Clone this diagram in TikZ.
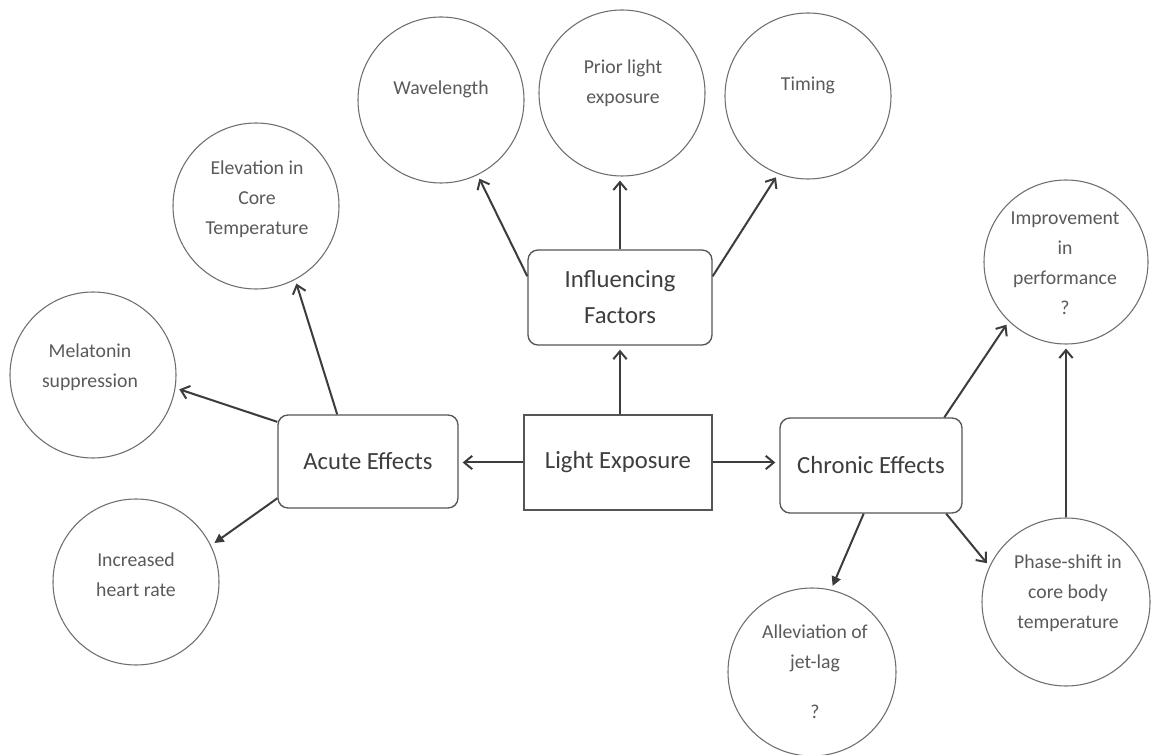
\documentclass[tikz,border=0pt]{standalone}
\usepackage{fontspec}
\setmainfont{Carlito}
\usetikzlibrary{arrows.meta,calc}
\definecolor{linec}{HTML}{3C3C3C}
\definecolor{circc}{HTML}{6E6E6E}
\definecolor{boxc}{HTML}{555555}
\definecolor{txtc}{HTML}{5A5A5A}
\definecolor{btxtc}{HTML}{3E3E3E}
\begin{document}
\begin{tikzpicture}[x=0.75pt,y=-0.75pt,
  bub/.style={circle,draw=circc,line width=0.8pt,inner sep=0pt},
  bubtxt/.style={align=center,text=txtc,inner sep=0pt,font=\fontsize{14.8}{22.5}\selectfont},
  stepbox/.style={draw=boxc,line width=1pt,inner sep=0pt,text=btxtc,align=center,font=\fontsize{18.5}{27}\selectfont},
  rbox/.style={stepbox,rounded corners=7.5pt},
  arr/.style={draw=linec,line width=1.5pt,-{Straight Barb[length=6pt,width=10pt]},shorten >=3pt},
  arrf/.style={draw=linec,line width=1.5pt,-{Triangle[length=7pt,width=7pt]},shorten >=3pt}]
\fill[white] (0,0) rectangle (1157,755);
\useasboundingbox (0,0) rectangle (1157,755);

% circles
\node[bub,minimum size=124.5pt] (wl) at (441,100) {};
\node[bubtxt] (wlt) at (441,89) {Wavelength};
\node[bub,minimum size=124.5pt] (prior) at (622,93) {};
\node[bubtxt] (prt) at (623,83) {Prior light\\exposure};
\node[bub,minimum size=124.5pt] (timing) at (808,96) {};
\node[bubtxt] (tmt) at (808,85) {Timing};
\node[bub,minimum size=124.5pt] (elev) at (256,206) {};
\node[bubtxt] (elt) at (257,199) {Elevation in\\Core\\Temperature};
\node[bub,minimum size=124.5pt] (mel) at (93,375) {};
\node[bubtxt] (mlt) at (90,367) {Melatonin\\suppression};
\node[bub,minimum size=124.5pt] (inc) at (136,582) {};
\node[bubtxt] (ict) at (136,575) {Increased\\heart rate};
\node[bub,minimum size=123pt] (impr) at (1066,262) {};
\node[bubtxt] (imt) at (1065,263) {Improvement\\in\\performance\\?};
\node[bub,minimum size=126pt] (phase) at (1066,602) {};
\node[bubtxt] (pht) at (1068,593) {Phase-shift in\\core body\\temperature};
\node[bub,minimum size=126pt] (allev) at (812,672) {};
\node[bubtxt] (avt) at (815,672) {Alleviation of\\jet-lag\\[15pt]?};

% boxes
\node[stepbox,minimum width=141pt,minimum height=71.25pt] (light) at (618,462.5) {Light Exposure};
\node[rbox,minimum width=135pt,minimum height=69.75pt] (acute) at (368,461.5) {Acute Effects};
\node[rbox,minimum width=136.5pt,minimum height=71.25pt] (chronic) at (871,465.5) {Chronic Effects};
\node[rbox,minimum width=138pt,minimum height=71.25pt] (infl) at (620,297.5) {Influencing\\Factors};

% connectors
\draw[arr] (infl.south |- light.north) -- (infl.south);
\draw[arr] ($(infl.north west)!0.28!(infl.south west)$) -- (wl.-64);
\draw[arr] (infl.north) -- (infl.north |- prior.south);
\draw[arr] ($(infl.north east)!0.28!(infl.south east)$) -- (timing.-111);
\draw[arr] (light.west) -- (light.west -| acute.east);
\draw[arr] (light.east) -- (light.east -| chronic.west);
\draw[arr] ($(acute.north west)!0.33!(acute.north east)$) -- (elev.-62);
\draw[arr] ($(acute.north west)!0.08!(acute.south west)$) -- (mel.-9);
\draw[arrf] ($(acute.north west)!0.89!(acute.south west)$) -- (inc.26);
\draw[arr] ($(chronic.north west)!0.90!(chronic.north east)$) -- (impr.-134);
\draw[arr] ($(chronic.south west)!0.91!(chronic.south east)$) -- (phase.155);
\draw[arrf] ($(chronic.south west)!0.46!(chronic.south east)$) -- (allev.77);
\draw[arr] (phase.north) -- (phase.north |- impr.south);
\end{tikzpicture}
\end{document}
